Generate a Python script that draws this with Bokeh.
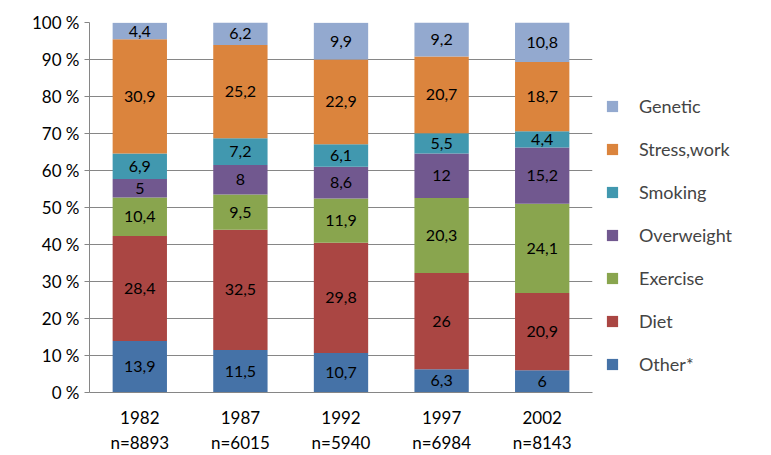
from bokeh.plotting import figure
from bokeh.models import ColumnDataSource, Legend, LegendItem, FixedTicker, CustomJSTickFormatter
from bokeh.embed import file_html
from bokeh.resources import INLINE
from bokeh.core.properties import value
import numpy as np

years = ["1982\nn=8893", "1987\nn=6015", "1992\nn=5940", "1997\nn=6984", "2002\nn=8143"]
series = ["Other*", "Diet", "Exercise", "Overweight", "Smoking", "Stress,work", "Genetic"]
other = [13.9, 11.5, 10.7, 6.3, 6]
diet = [28.4, 32.5, 29.8, 26, 20.9]
exercise = [10.4, 9.5, 11.9, 20.3, 24.1]
overweight = [5, 8, 8.6, 12, 15.2]
smoking = [6.9, 7.2, 6.1, 5.5, 4.4]
stress = [30.9, 25.2, 22.9, 20.7, 18.7]
genetic = [4.4, 6.2, 9.9, 9.2, 10.8]
colors = ["#4572A7", "#AA4643", "#89A54E", "#71588F", "#4198AF", "#DB843D", "#93A9CF"]

vals = [other, diet, exercise, overweight, smoking, stress, genetic]
keys = ["s%d" % i for i in range(len(series))]
data = {"x": years}
for k, v in zip(keys, vals):
    data[k] = v
src = ColumnDataSource(data)

FONT = "Lato"
p = figure(x_range=years, y_range=(0, 100), frame_width=503, frame_height=370,
           output_backend="svg", toolbar_location=None,
           min_border_left=89, min_border_top=22, min_border_bottom=10, min_border_right=0)
renderers = p.vbar_stack(keys, x="x", width=0.54, color=colors, source=src, line_color=None)

bottom = np.zeros(len(years))
for v in vals:
    v = np.array(v, dtype=float)
    mid = bottom + v / 2
    txt = [("%g" % a).replace(".", ",") for a in v]
    p.text(x=years, y=list(mid), text=txt, text_align="center", text_baseline="middle",
           text_font=value(FONT), text_font_size="16px", text_color="black")
    bottom += v

items = [LegendItem(label=s, renderers=[r]) for s, r in zip(series, renderers)][::-1]
leg = Legend(items=items, label_text_font=FONT, label_text_font_size="18px",
             border_line_color=None, spacing=21, glyph_width=14, glyph_height=14,
             label_height=20, padding=0, margin=0, label_standoff=20,
             location=(13, 17))
p.add_layout(leg, "right")

p.yaxis.ticker = FixedTicker(ticks=list(range(0, 101, 10)))
p.yaxis.formatter = CustomJSTickFormatter(code="return tick + ' %';")
p.xgrid.grid_line_color = None
p.ygrid.grid_line_color = "#868686"
p.outline_line_color = None
for ax in (p.xaxis, p.yaxis):
    ax.major_label_text_font = FONT
    ax.major_label_text_font_size = "17px"
    ax.major_label_text_color = "black"
    ax.axis_line_color = "#868686"
    ax.major_tick_line_color = "#868686"
    ax.minor_tick_line_color = None
p.yaxis.major_tick_out = 5
p.yaxis.major_tick_in = 0
p.xaxis.major_tick_line_color = None
p.xaxis.major_label_standoff = 8

open("out.html", "w").write(file_html(p, INLINE))
